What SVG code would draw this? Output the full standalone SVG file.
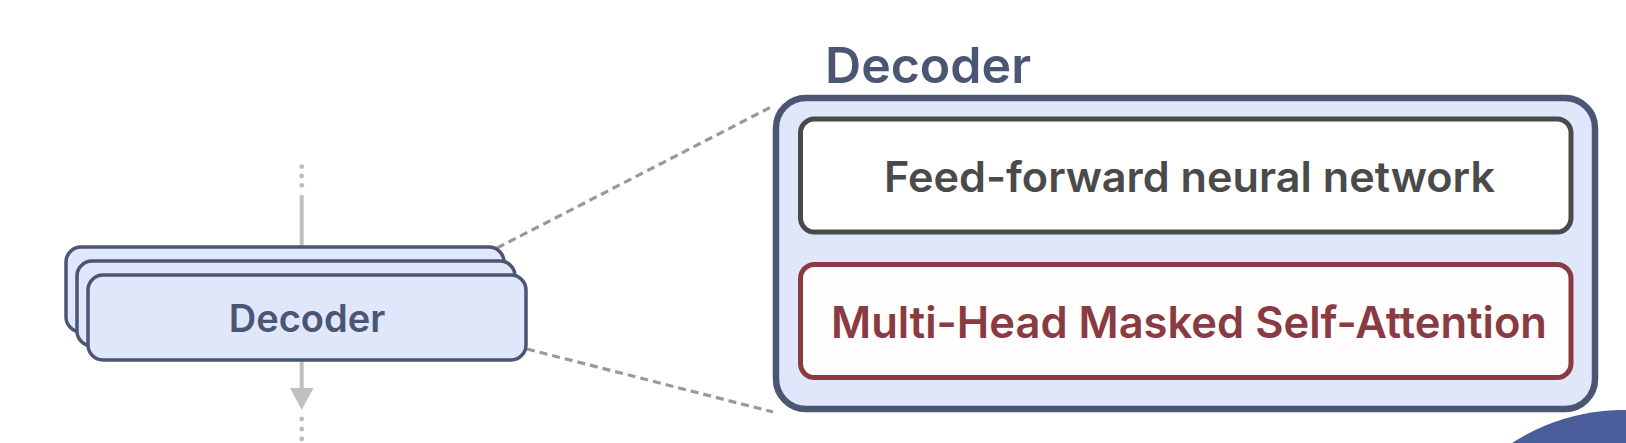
<svg xmlns="http://www.w3.org/2000/svg" width="1626" height="443" viewBox="0 0 1626 443">
<style>
.stk{fill:#e1e7fb;stroke:#4b5574;stroke-width:3.5}
.lbl{font-family:Inter,"Liberation Sans",sans-serif;font-weight:600}
.dash{stroke:#999;stroke-width:3.2;stroke-dasharray:8 5;fill:none}
.dot{fill:#bdbdbd}
</style>
<circle cx="1623" cy="613" r="203" fill="#4b5e9b"/>
<g id="connectors">
<line class="dash" x1="497" y1="248" x2="773" y2="106"/>
<line class="dash" x1="527" y1="349" x2="773" y2="412"/>
<circle class="dot" cx="301.7" cy="166.7" r="2.4"/>
<circle class="dot" cx="301.7" cy="176" r="2.4"/>
<circle class="dot" cx="301.7" cy="185.3" r="2.4"/>
<line x1="301.7" y1="195" x2="301.7" y2="248" stroke="#c0c0c0" stroke-width="4"/>
<line x1="301.7" y1="360" x2="301.7" y2="388" stroke="#c0c0c0" stroke-width="4"/>
<path d="M290,388 L313.5,388 L301.7,410 Z" fill="#c0c0c0"/>
<circle class="dot" cx="301.7" cy="419" r="2.4"/>
<circle class="dot" cx="301.7" cy="429" r="2.4"/>
<circle class="dot" cx="301.7" cy="439" r="2.4"/>
</g>
<g id="decoder-stack">
<rect class="stk" x="66" y="247" width="438" height="85" rx="15"/>
<rect class="stk" x="77" y="261" width="438" height="85" rx="15"/>
<rect class="stk" x="88" y="275" width="438" height="85" rx="15"/>
<text class="lbl" x="307" y="332" font-size="38" fill="#4b5574" text-anchor="middle">Decoder</text>
</g>
<g id="decoder-detail">
<text class="lbl" x="825" y="83" font-size="49" font-weight="700" fill="#4b5574" textLength="206" lengthAdjust="spacingAndGlyphs">Decoder</text>
<rect x="776" y="98" width="819" height="311" rx="30" fill="#e1e7fb" stroke="#4b5574" stroke-width="6.5"/>
</g>
<g id="ffnn">
<rect x="800.5" y="119" width="770.5" height="113" rx="14" fill="#ffffff" stroke="#4a4a4a" stroke-width="5"/>
<text class="lbl" x="884" y="192" font-size="42" fill="#4a4a4a" textLength="611" lengthAdjust="spacingAndGlyphs">Feed-forward neural network</text>
</g>
<g id="mhmsa">
<rect x="800.5" y="264.5" width="770.5" height="113" rx="14" fill="#fffdfd" stroke="#8a3a41" stroke-width="5"/>
<text class="lbl" x="831" y="338" font-size="44" fill="#8a3a41" textLength="716" lengthAdjust="spacingAndGlyphs">Multi-Head Masked Self-Attention</text>
</g>
</svg>
